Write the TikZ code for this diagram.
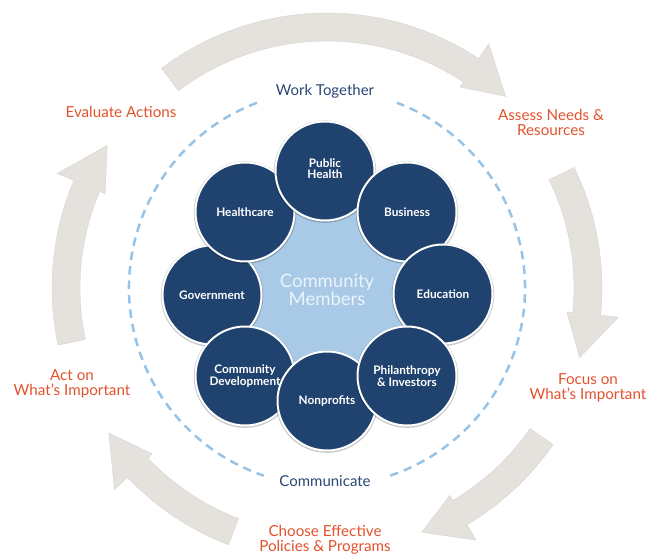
\documentclass[tikz,border=0pt]{standalone}
\usepackage{fontspec}
\setmainfont{Lato}
\usetikzlibrary{shadows}
\definecolor{navy}{RGB}{31,67,110}
\definecolor{corefill}{RGB}{168,202,230}
\definecolor{coretext}{RGB}{236,244,251}
\definecolor{dashblue}{RGB}{150,195,232}
\definecolor{arrowgray}{RGB}{229,226,221}
\definecolor{labelorange}{RGB}{226,83,45}
\definecolor{titleblue}{RGB}{43,72,118}
\tikzset{
  bubble/.style={circle, fill=navy, draw=white, line width=2pt, minimum size=99pt,
    inner sep=0pt, text=white, align=center, font=\bfseries\fontsize{11.8}{12.5}\selectfont,
    drop shadow={shadow xshift=0pt, shadow yshift=-0.6pt, shadow scale=1.035, fill=black, opacity=0.22}},
  core/.style={circle, fill=corefill, minimum size=200pt, inner sep=0pt, text=coretext,
    align=center, font=\fontsize{18.5}{17.5}\selectfont},
  steplabel/.style={text=labelorange, align=center, font=\fontsize{15.2}{15}\selectfont, inner sep=1pt},
  ringlabel/.style={text=titleblue, font=\fontsize{15}{15}\selectfont, inner sep=1pt},
  dashline/.style={draw=dashblue, line width=2.5pt, dash pattern=on 8.5pt off 6pt},
  cyclearrow/.style={fill=arrowgray, draw=arrowgray!92!black, line width=0.3pt}
}
\begin{document}
\begin{tikzpicture}[x=1pt,y=1pt]
\useasboundingbox[fill=white] (0,0) rectangle (650,556);
\coordinate (C) at (327,268);

% outer cycle arrows
\begin{scope}[shift={(C)}]
\foreach \a/\b/\c in {127/56.5/47, 26/-5.7/-15.4, -34.7/-59.4/-68.8, -111/-136.5/-146.4, 192/157/147}{
  \path[cyclearrow] (\a:275pt) arc[start angle=\a, end angle=\b, radius=275pt]
    -- (\b:293pt) -- (\c:262pt) -- (\b:241pt) -- (\b:247pt)
    arc[start angle=\b, end angle=\a, radius=247pt] -- cycle;
}
% dashed ring
\draw[dashline] (110.7:198pt) arc[start angle=110.7, end angle=251.4, radius=198pt];
\draw[dashline] (-71.4:198pt) arc[start angle=-71.4, end angle=69.3, radius=198pt];
\end{scope}

% core
\node[core] (core) at (327,266) {Community\\Members};

% partner circles
\node[bubble] (gov)  at (212,261) {Government};
\node[bubble] (hc)   at (245,344) {Healthcare};
\node[bubble] (ph)   at (325,385) {\raisebox{5pt}{\shortstack{Public\\[-1pt]Health}}};
\node[bubble] (bus)  at (407,344) {Business};
\node[bubble] (edu)  at (443,262) {Education};
\node[bubble] (cd)   at (245,180) {Community\\Development};
\node[bubble] (np)   at (327,155) {Nonprofits};
\node[bubble] (phil) at (407,180) {Philanthropy\\\&\ Investors};

% ring labels
\node[ringlabel] (work) at (325,465) {Work Together};
\node[ringlabel] (comm) at (325,75) {Communicate};

% step labels
\node[steplabel] (eval)   at (121,444) {Evaluate Actions};
\node[steplabel] (assess) at (551,434) {Assess Needs \&\\Resources};
\node[steplabel] (focus)  at (588,168) {Focus on\\What’s Important};
\node[steplabel] (choose) at (325,16)  {Choose Effective\\Policies \& Programs};
\node[steplabel] (act)    at (72,172)  {Act on\\What’s Important};
\end{tikzpicture}
\end{document}
